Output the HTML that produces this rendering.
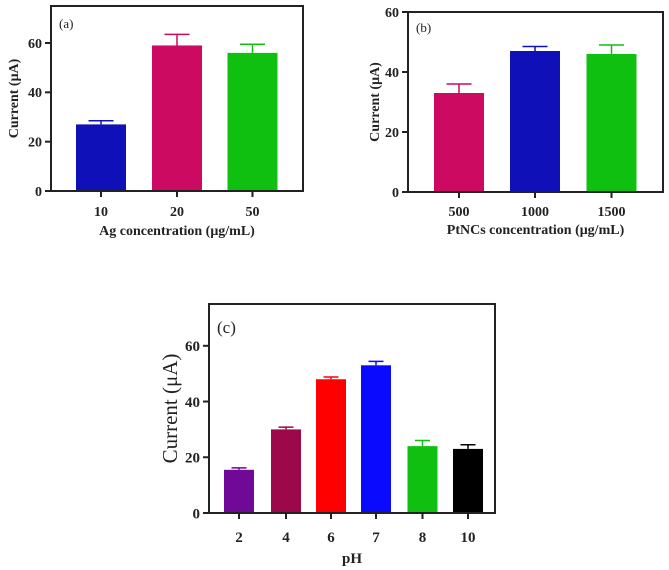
<!DOCTYPE html>
<html><head><meta charset="utf-8"><style>
body{margin:0;background:#fff;width:669px;height:570px;overflow:hidden}
svg{position:absolute;left:0;top:0}
text{font-family:"Liberation Serif",serif;fill:#222}
</style></head><body>
<svg id="c" width="669" height="570"></svg>
<script>
const catsA=["10","20","50"];
const valsA=[27,59,56];
const errA=[1.5,4.5,3.5];
const colA=["#1010b8","#cc0a62","#10c010"];
const catsB=["500","1000","1500"];
const valsB=[33,47,46];
const errB=[3,1.5,3];
const colB=["#cc0a62","#1010b8","#10c010"];
const catsC=["2","4","6","7","8","10"];
const valsC=[15.5,30,48,53,24,23];
const errC=[0.7,0.8,0.8,1.4,2,1.5];
const colC=["#700898","#9c084a","#ff0000","#0a0aff","#10c010","#000000"];
const ticks=[0,20,40,60];
const NS="http://www.w3.org/2000/svg";
const svg=document.getElementById('c');
function mk(t,a,p){const e=document.createElementNS(NS,t);for(const k in a)e.setAttribute(k,a[k]);(p||svg).appendChild(e);return e;}
function panel(id,cfg,cats,vals,errs,cols){
 const g=mk('g',{});
 
 
 const {L,R,T,B,ymax,bw,centers,fs,lfs}=cfg;
 const y=v=>B-(B-T)*v/ymax;
 cats.forEach((c,i)=>{
  const cx=centers[i];
  const r=mk('rect',{x:cx-bw/2,y:y(vals[i]),width:bw,height:B-y(vals[i]),fill:cols[i]},g);
  
  
  const e=mk('path',{d:`M${cx},${y(vals[i])}V${y(vals[i]+errs[i])}M${cx-bw/4},${y(vals[i]+errs[i])}H${cx+bw/4}`,stroke:cols[i],'stroke-width':1.5,fill:'none'},g);
  
  
  mk('line',{x1:cx,x2:cx,y1:B,y2:B+6,stroke:'#222','stroke-width':2},g);
  const t=mk('text',{x:cx,y:B+cfg.tly,'text-anchor':'middle','font-size':fs,'font-weight':'bold'},g);
  t.textContent=c;
  
  
 });
 ticks.forEach(v=>{
  if(v>ymax)return;
  mk('line',{x1:L-6,x2:L,y1:y(v),y2:y(v),stroke:'#222','stroke-width':2},g);
  const t=mk('text',{x:L-9,y:y(v)+fs*0.35,'text-anchor':'end','font-size':fs,'font-weight':'bold'},g);
  t.textContent=v;
  
  
 });
 mk('rect',{x:L,y:T,width:R-L,height:B-T,fill:'none',stroke:'#222','stroke-width':2},g);
 const pl=mk('text',{x:L+8,y:T+cfg.ply,'font-size':cfg.pfs},g);pl.textContent='('+id+')';
 
 
 const xl=mk('text',{x:(L+R)/2,y:B+cfg.xly,'text-anchor':'middle','font-size':fs,'font-weight':'bold'},g);xl.textContent=cfg.xlabel;
 
 
 const yx=cfg.ylx,yy=(T+B)/2;
 const yl=mk('text',{x:yx,y:yy,'text-anchor':'middle','font-size':lfs,'font-weight':cfg.ybold?'bold':'normal',transform:`rotate(-90 ${yx} ${yy})`},g);yl.textContent='Current (μA)';
 
 
}
panel('a',{L:51,R:303,T:6,B:191,ymax:75,bw:50,centers:[101,177,252.5],fs:14,lfs:14,ybold:true,tly:25,xly:44,ply:22,pfs:13,xlabel:'Ag concentration (μg/mL)',ylx:18},catsA,valsA,errA,colA);
panel('b',{L:408,R:663,T:12,B:192,ymax:60,bw:50,centers:[459,535,611.5],fs:14,lfs:14,ybold:true,tly:24,xly:42,ply:20,pfs:13,xlabel:'PtNCs concentration (μg/mL)',ylx:379},catsB,valsB,errB,colB);
panel('c',{L:209,R:495,T:304,B:513,ymax:75,bw:30,centers:[239,286,331,376,422.5,468],fs:15,lfs:21,ybold:false,tly:29,xly:50,ply:29,pfs:17,xlabel:'pH',ylx:177},catsC,valsC,errC,colC);
</script>
</body></html>
